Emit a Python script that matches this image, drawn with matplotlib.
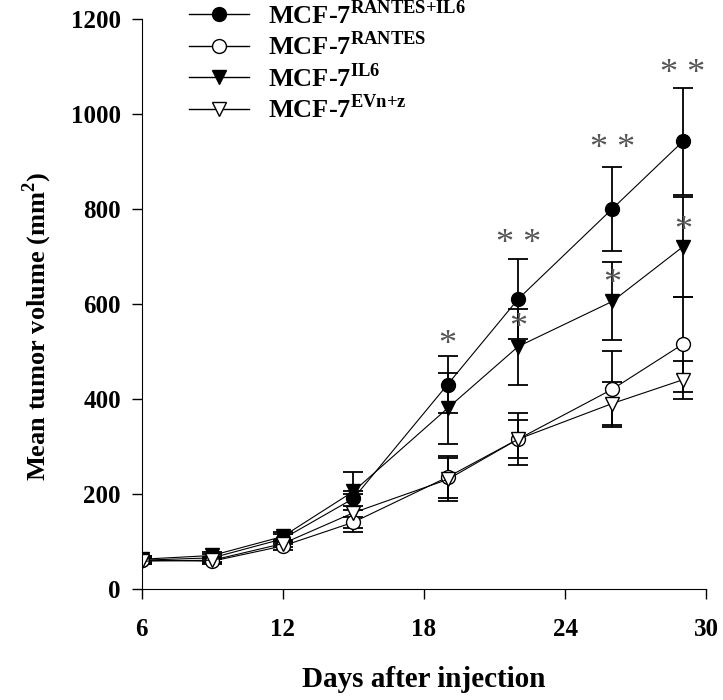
import matplotlib.pyplot as plt
from matplotlib.lines import Line2D

plt.rcParams['font.family'] = ['Liberation Serif', 'DejaVu Serif']
plt.rcParams['font.weight'] = 'bold'
plt.rcParams['mathtext.fontset'] = 'custom'
plt.rcParams['mathtext.rm'] = 'Liberation Serif'
plt.rcParams['mathtext.bf'] = 'Liberation Serif:bold'

# days after injection
days = [6, 9, 12, 15, 19, 22, 26, 29]

# mean tumor volume (mm2) and error
rantes_il6 = [60, 65, 105, 190, 430, 610, 800, 942]
rantes_il6_err = [8, 8, 10, 15, 60, 85, 88, 113]
rantes = [60, 58, 90, 140, 235, 315, 420, 515]
rantes_err = [6, 6, 8, 12, 45, 55, 80, 100]
il6 = [62, 70, 110, 205, 380, 510, 605, 720]
il6_err = [6, 8, 10, 40, 75, 80, 82, 105]
evn = [58, 60, 95, 160, 230, 315, 390, 440]
evn_err = [6, 6, 8, 40, 45, 40, 45, 40]

labels = [r'MCF-7$^{\mathbf{RANTES{+}IL6}}$', r'MCF-7$^{\mathbf{RANTES}}$',
          r'MCF-7$^{\mathbf{IL6}}$', r'MCF-7$^{\mathbf{EVn{+}z}}$']

# significance marks: (day, height, text)
stars_x = [19, 22, 22, 26, 26, 29, 29]
stars_y = [513, 724, 549, 924, 640, 1082, 752]
stars_t = ['*', '* *', '*', '* *', '*', '* *', '*']

fig = plt.figure(figsize=(7.23, 7.0), dpi=100)
ax = fig.add_axes([0.196, 0.159, 0.781, 0.814])

series = [
    (rantes_il6, rantes_il6_err, 'o', 'black'),
    (rantes, rantes_err, 'o', 'white'),
    (il6, il6_err, 'v', 'black'),
    (evn, evn_err, 'v', 'white'),
]
handles = []
for vals, err, m, fc in series:
    ax.errorbar(days, vals, yerr=err, marker=m, markersize=10,
                markerfacecolor=fc, markeredgecolor='black', color='black',
                linewidth=0.8, elinewidth=1.3, capsize=7, capthick=1.3)
    handles.append(Line2D([], [], marker=m, markersize=10, markerfacecolor=fc,
                          markeredgecolor='black', color='black', linewidth=1))

for sx, sy, st in zip(stars_x, stars_y, stars_t):
    ax.text(sx, sy, st, ha='center', va='center', fontsize=26,
            color='#555555', fontweight='normal')

ax.set_xlim(6, 30)
ax.set_ylim(0, 1200)
ax.set_xticks([6, 12, 18, 24, 30])
ax.set_yticks(range(0, 1201, 200))
ax.spines['top'].set_visible(False)
ax.spines['right'].set_visible(False)
ax.tick_params(direction='out', length=7, width=1, labelsize=18, pad=8)
for t in ax.get_xticklabels() + ax.get_yticklabels():
    t.set_fontweight('bold')
ax.tick_params(axis='x', pad=14)

ax.set_xlabel('Days after injection', fontsize=21, fontweight='bold', labelpad=18)
ax.set_ylabel(r'Mean tumor volume (mm$^{\mathbf{2}}$)', fontsize=19,
              fontweight='bold')
ax.yaxis.set_label_coords(-0.155, 0.46)

fig.legend(handles=handles, labels=labels, loc='upper left',
           bbox_to_anchor=(0.228, 1.034), frameon=False,
           handlelength=2.3, labelspacing=0.11, handletextpad=0.7,
           prop={'family': 'Liberation Serif', 'weight': 'bold', 'size': 19})

fig.savefig('out.png', dpi=100)
